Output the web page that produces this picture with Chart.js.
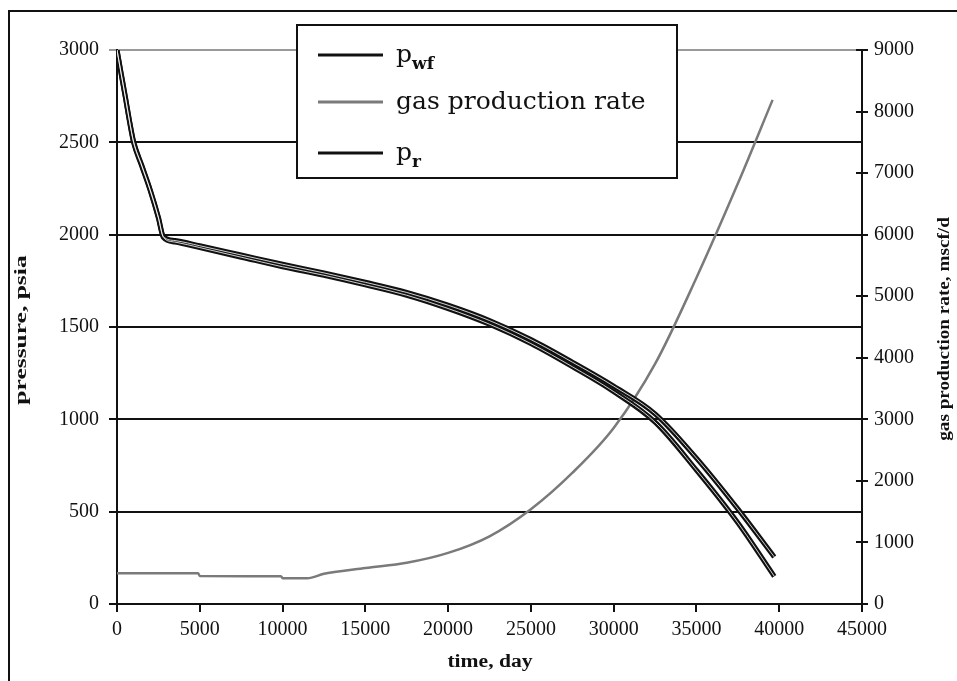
<!DOCTYPE html>
<html>
<head>
<meta charset="utf-8">
<title>Pressure and gas production rate vs time</title>
<script src="https://cdn.jsdelivr.net/npm/chart.js@4.4.1/dist/chart.umd.min.js"></script>
<style>
  html, body { margin: 0; padding: 0; background: #fff; }
  #wrap { width: 957px; height: 681px; position: relative; }
</style>
</head>
<body>
<div id="wrap"><canvas id="prodChart" width="957" height="681"></canvas></div>
<script>
// Pressure history (days, psia)
const pressureDays = [0, 250, 500, 750, 1000, 1500, 2000, 2500, 2800, 3500, 5000, 7500, 10000, 12500,
  15000, 17500, 20000, 22500, 25000, 27500, 30000, 32500, 35000, 37500, 39700];
const pwf = [3000, 2870, 2745, 2615, 2500, 2370, 2240, 2090, 1985, 1960, 1930, 1878, 1826, 1780,
  1728, 1672, 1600, 1515, 1410, 1285, 1150, 985, 725, 440, 150];
const pr = [3000, 2875, 2750, 2620, 2505, 2375, 2245, 2095, 1990, 1968, 1940, 1890, 1840, 1793,
  1742, 1687, 1618, 1535, 1432, 1310, 1180, 1030, 790, 515, 255];

// Gas production rate history (days, mscf/d)
const rateDays = [0, 4900, 5000, 9900, 10000, 11500, 12500, 15000, 17500, 20000, 22500,
  25000, 27500, 30000, 32500, 35000, 37500, 39600];
const gasRate = [500, 500, 455, 450, 420, 420, 490, 585, 670, 830, 1100,
  1540, 2130, 2860, 3900, 5300, 6830, 8190];

const xTicks = [0, 5000, 10000, 15000, 20000, 25000, 30000, 35000, 40000, 45000];

const serif = "'Liberation Serif', 'Times New Roman', serif";
const legendFont = "'DejaVu Serif', serif";

function toPoints(xs, ys) {
  return xs.map((x, i) => ({ x: x, y: ys[i] }));
}

// Legend entries drawn inside the plot
const legendItems = [
  { main: "p", sub: "wf", color: "#111" },
  { main: "gas production rate", sub: "", color: "#7a7a7a" },
  { main: "p", sub: "r", color: "#111" }
];

// Draw a title rotated by `angle`, stretched along its reading direction
function drawTitle(ctx, text, x, y, angle, size, stretch) {
  ctx.save();
  ctx.translate(x, y);
  ctx.rotate(angle);
  ctx.scale(stretch, 1);
  ctx.font = "bold " + size + "px " + serif;
  ctx.fillStyle = "#111";
  ctx.textAlign = "center";
  ctx.textBaseline = "middle";
  ctx.fillText(text, 0, 0);
  ctx.restore();
}

const framePlugin = {
  id: "frame",
  afterDraw(chart) {
    const ctx = chart.ctx;
    const area = chart.chartArea;
    ctx.save();

    // outer frame (left and top edges)
    ctx.strokeStyle = "#111";
    ctx.lineWidth = 2;
    ctx.beginPath();
    ctx.moveTo(9, 681);
    ctx.lineTo(9, 11);
    ctx.lineTo(957, 11);
    ctx.stroke();

    // right axis tick marks cross into the plot
    const y1 = chart.scales.y1;
    ctx.beginPath();
    y1.ticks.forEach(t => {
      const py = Math.round(y1.getPixelForValue(t.value));
      ctx.moveTo(area.right - 6, py);
      ctx.lineTo(area.right, py);
    });
    ctx.stroke();

    // legend box
    const bx = 297, by = 25, bw = 380, bh = 153;
    ctx.fillStyle = "#fff";
    ctx.fillRect(bx, by, bw, bh);
    ctx.lineWidth = 2;
    ctx.strokeStyle = "#111";
    ctx.strokeRect(bx, by, bw, bh);

    const rows = [55, 102, 153];
    legendItems.forEach((item, i) => {
      const y = rows[i];
      ctx.strokeStyle = item.color;
      ctx.lineWidth = 3;
      ctx.beginPath();
      ctx.moveTo(318, y);
      ctx.lineTo(383, y);
      ctx.stroke();

      ctx.fillStyle = "#111";
      ctx.textBaseline = "alphabetic";
      ctx.textAlign = "left";
      ctx.font = "25px " + legendFont;
      ctx.fillText(item.main, 396, y + 7);
      if (item.sub) {
        const w = ctx.measureText(item.main).width;
        ctx.font = "bold 17px " + legendFont;
        ctx.fillText(item.sub, 396 + w, y + 14);
      }
    });
    ctx.restore();

    // axis titles
    drawTitle(ctx, "pressure, psia", 22, 330, -Math.PI / 2, 17, 1.5);
    drawTitle(ctx, "gas production rate, mscf/d", 945, 329, -Math.PI / 2, 16, 1.2);
    drawTitle(ctx, "time, day", 490, 662, 0, 18, 1.2);
  }
};

const plainNumber = v => String(v);
const coreColor = "rgba(255,255,255,0.8)";

const chart = new Chart(document.getElementById("prodChart"), {
  type: "line",
  data: {
    datasets: [
      {
        // light cores of the pressure lines, drawn on top
        label: "pwf core",
        data: toPoints(pressureDays, pwf),
        yAxisID: "y",
        borderColor: coreColor,
        borderWidth: 1,
        pointRadius: 0,
        cubicInterpolationMode: "monotone"
      },
      {
        label: "pr core",
        data: toPoints(pressureDays, pr),
        yAxisID: "y",
        borderColor: coreColor,
        borderWidth: 1,
        pointRadius: 0,
        cubicInterpolationMode: "monotone"
      },
      {
        label: "pwf",
        data: toPoints(pressureDays, pwf),
        yAxisID: "y",
        borderColor: "#111",
        borderWidth: 5,
        pointRadius: 0,
        cubicInterpolationMode: "monotone"
      },
      {
        label: "pr",
        data: toPoints(pressureDays, pr),
        yAxisID: "y",
        borderColor: "#111",
        borderWidth: 5,
        pointRadius: 0,
        cubicInterpolationMode: "monotone"
      },
      {
        label: "gas production rate",
        data: toPoints(rateDays, gasRate),
        yAxisID: "y1",
        borderColor: "#7a7a7a",
        borderWidth: 2.5,
        pointRadius: 0,
        cubicInterpolationMode: "monotone"
      }
    ]
  },
  options: {
    responsive: false,
    animation: false,
    layout: { padding: { top: 50, left: 0, right: 0, bottom: 0 } },
    plugins: {
      legend: { display: false },
      tooltip: { enabled: false }
    },
    scales: {
      x: {
        type: "linear",
        min: 0,
        max: 45000,
        afterBuildTicks: axis => { axis.ticks = xTicks.map(v => ({ value: v })); },
        afterFit: axis => { axis.height = 77; },
        grid: { drawOnChartArea: false, drawTicks: true, tickLength: 8, color: "#111", lineWidth: 2 },
        border: { display: true, color: "#111", width: 2 },
        ticks: {
          color: "#111",
          padding: 6,
          maxRotation: 0,
          autoSkip: false,
          callback: plainNumber,
          font: { family: serif, size: 20 }
        }
      },
      y: {
        position: "left",
        min: 0,
        max: 3000,
        afterFit: axis => { axis.width = 117; },
        ticks: {
          stepSize: 500,
          color: "#111",
          padding: 10,
          callback: plainNumber,
          font: { family: serif, size: 20 }
        },
        grid: {
          color: c => (c.tick && c.tick.value === 3000 ? "#9a9a9a" : "#111"),
          lineWidth: 2,
          tickLength: 8
        },
        border: { display: true, color: "#111", width: 2 }
      },
      y1: {
        position: "right",
        min: 0,
        max: 9000,
        afterFit: axis => { axis.width = 95; },
        ticks: {
          stepSize: 1000,
          color: "#111",
          padding: 6,
          callback: plainNumber,
          font: { family: serif, size: 20 }
        },
        grid: { drawOnChartArea: false, color: "#111", lineWidth: 2, tickLength: 6 },
        border: { display: true, color: "#111", width: 2 }
      }
    }
  },
  plugins: [framePlugin]
});
</script>
</body>
</html>
